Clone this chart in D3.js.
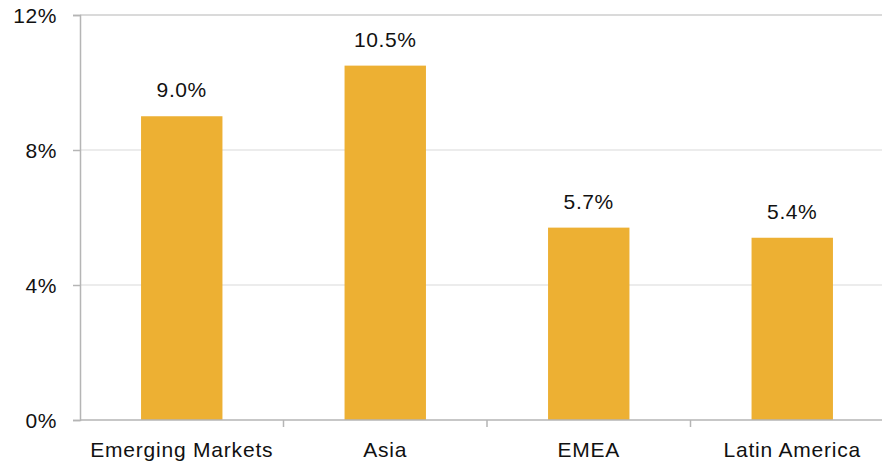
<!DOCTYPE html>
<html>
<head>
<meta charset="utf-8">
<script src="https://cdn.jsdelivr.net/npm/d3@7/dist/d3.min.js"></script>
<style>
  html, body { margin: 0; padding: 0; background: #fff; }
  svg { display: block; }
  text { font-family: "Liberation Sans", Arial, Helvetica, sans-serif; fill: #111; }
</style>
</head>
<body>
<svg id="chart" width="882" height="463"></svg>
<script>
// Regional values, in percent
const categories = ["Emerging Markets", "Asia", "EMEA", "Latin America"];
const values = [9.0, 10.5, 5.7, 5.4];
const yTicks = [0, 4, 8, 12];

const W = 882, H = 463;
const margin = { left: 80, top: 15, bottom: 43 };
const plotRight = 894;

const svg = d3.select("#chart");

const x = d3.scaleBand().domain(categories).range([margin.left, plotRight]).padding(0);
const y = d3.scaleLinear().domain([0, 12]).range([H - margin.bottom, margin.top]);

const gridColor = "#d9d9d9";
const axisColor = "#b5b5b5";

// Horizontal gridlines
svg.append("g")
  .selectAll("line")
  .data(yTicks.filter(d => d > 0))
  .join("line")
  .attr("x1", margin.left).attr("x2", W)
  .attr("y1", d => y(d)).attr("y2", d => y(d))
  .attr("stroke", d => d === 12 ? axisColor : gridColor)
  .attr("stroke-width", 1);

// Bars
const barW = x.bandwidth() * 0.4;
svg.append("g")
  .selectAll("rect")
  .data(values)
  .join("rect")
  .attr("x", (d, i) => x(categories[i]) + (x.bandwidth() - barW) / 2)
  .attr("width", barW)
  .attr("y", d => y(d))
  .attr("height", d => y(0) - y(d))
  .attr("fill", "#edb033");

// Value labels
svg.append("g")
  .selectAll("text")
  .data(values)
  .join("text")
  .attr("x", (d, i) => x(categories[i]) + x.bandwidth() / 2)
  .attr("y", d => y(d) - 19)
  .attr("text-anchor", "middle")
  .attr("font-size", 21)
  .style("letter-spacing", "0.6px")
  .text(d => d.toFixed(1) + "%");

// Y axis
const yAxis = svg.append("g")
  .attr("transform", `translate(${margin.left},0)`)
  .call(d3.axisLeft(y).tickValues(yTicks).tickFormat(d => d + "%").tickSize(7).tickPadding(16));
yAxis.select(".domain").attr("stroke", axisColor).attr("stroke-width", 1.5);
yAxis.selectAll(".tick line").attr("stroke", axisColor).attr("stroke-width", 1.5);
yAxis.selectAll(".tick text")
  .attr("font-size", 21)
  .attr("font-family", "Liberation Sans, Arial, sans-serif")
  .attr("fill", "#111")
  .attr("dy", "0.36em")
  .style("letter-spacing", "0.6px");

// X axis baseline with separators between categories
const xg = svg.append("g");
xg.append("line")
  .attr("x1", margin.left).attr("x2", W)
  .attr("y1", y(0)).attr("y2", y(0))
  .attr("stroke", axisColor).attr("stroke-width", 1.5);
xg.selectAll("line.sep")
  .data(categories.slice(1))
  .join("line")
  .attr("class", "sep")
  .attr("x1", d => x(d)).attr("x2", d => x(d))
  .attr("y1", y(0)).attr("y2", y(0) + 7)
  .attr("stroke", axisColor).attr("stroke-width", 1.5);
xg.selectAll("text")
  .data(categories)
  .join("text")
  .attr("x", d => x(d) + x.bandwidth() / 2)
  .attr("y", y(0) + 37)
  .attr("text-anchor", "middle")
  .attr("font-size", 21)
  .style("letter-spacing", "0.8px")
  .text(d => d);
</script>
</body>
</html>
